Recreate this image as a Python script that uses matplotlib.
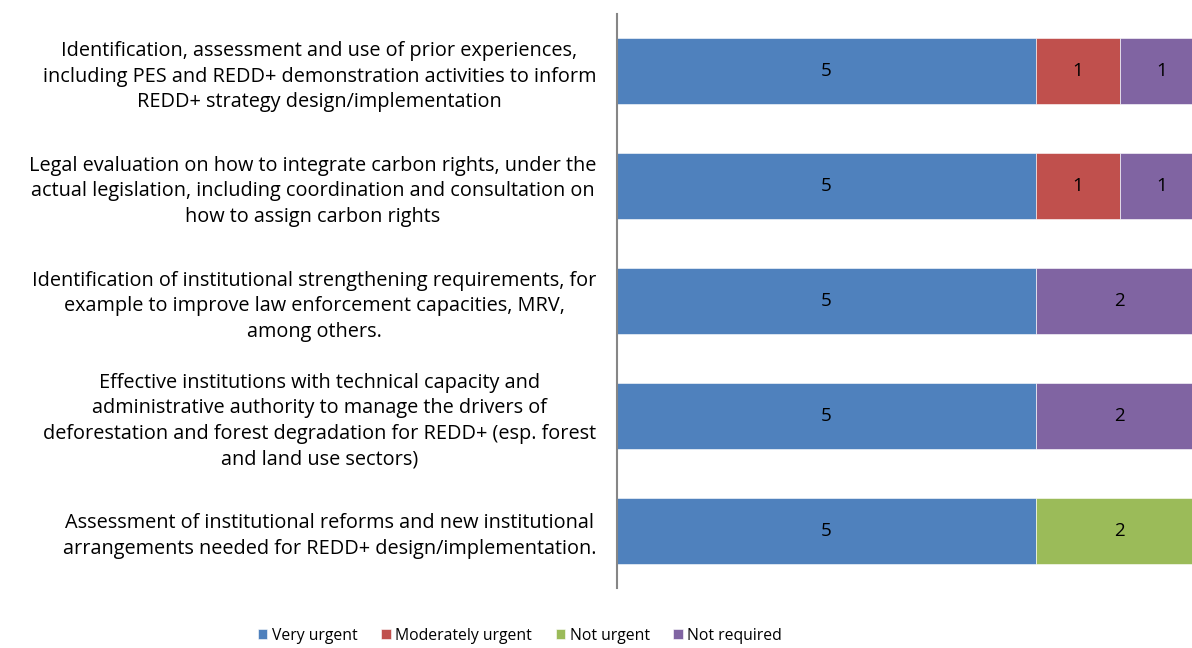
import numpy as np
import matplotlib.pyplot as plt

# Data
categories = [
    "Identification, assessment and use of prior experiences,\nincluding PES and REDD+ demonstration activities to inform\nREDD+ strategy design/implementation",
    "Legal evaluation on how to integrate carbon rights, under the\nactual legislation, including coordination and consultation on\nhow to assign carbon rights",
    "Identification of institutional strengthening requirements, for\nexample to improve law enforcement capacities, MRV,\namong others.",
    "Effective institutions with technical capacity and\nadministrative authority to manage the drivers of\ndeforestation and forest degradation for REDD+ (esp. forest\nand land use sectors)",
    "Assessment of institutional reforms and new institutional\narrangements needed for REDD+ design/implementation.",
]
series_names = ["Very urgent", "Moderately urgent", "Not urgent", "Not required"]
very_urgent = [5, 5, 5, 5, 5]
moderately_urgent = [1, 1, 0, 0, 0]
not_urgent = [0, 0, 0, 0, 2]
not_required = [1, 1, 2, 2, 0]
colors = ["#4F81BD", "#C0504D", "#9BBB59", "#8064A2"]

plt.rcParams['font.family'] = ['Open Sans', 'DejaVu Sans']

fig = plt.figure(figsize=(11.92, 6.48), dpi=100)
ax = fig.add_axes([617 / 1192, 60 / 648, 1 - 617 / 1192, 574 / 648])

y = np.arange(len(categories))
left = np.zeros(len(categories))
for name, vals, col in zip(series_names,
                           [very_urgent, moderately_urgent, not_urgent, not_required],
                           colors):
    vals = np.array(vals, dtype=float)
    ax.barh(y, vals, left=left, height=0.575, color=col, label=name,
            edgecolor='white', linewidth=0.4)
    for yi, l, v in zip(y, left, vals):
        if v > 0:
            ax.text(l + v / 2, yi, f"{int(v)}", ha='center', va='center',
                    fontsize=13.5, color='black')
    left += vals

ax.set_ylim(len(categories) - 0.5, -0.5)
ax.set_xlim(0, 6.86)
ax.set_yticks(y)
ax.set_yticklabels(categories, fontsize=14.3, linespacing=1.37)
for lab in ax.get_yticklabels():
    lab.set_multialignment('center')
ax.tick_params(axis='y', length=0, pad=15)
ax.set_xticks([])
for s in ['top', 'right', 'bottom']:
    ax.spines[s].set_visible(False)
ax.spines['left'].set_color('#868686')
ax.spines['left'].set_linewidth(1.5)

fig.legend(loc='center', bbox_to_anchor=(520 / 1192, 1 - 636 / 648), ncol=4,
           frameon=False, fontsize=11.3, handlelength=0.6, handleheight=0.6,
           handletextpad=0.3, columnspacing=1.5)

fig.savefig("out.png", dpi=100)
